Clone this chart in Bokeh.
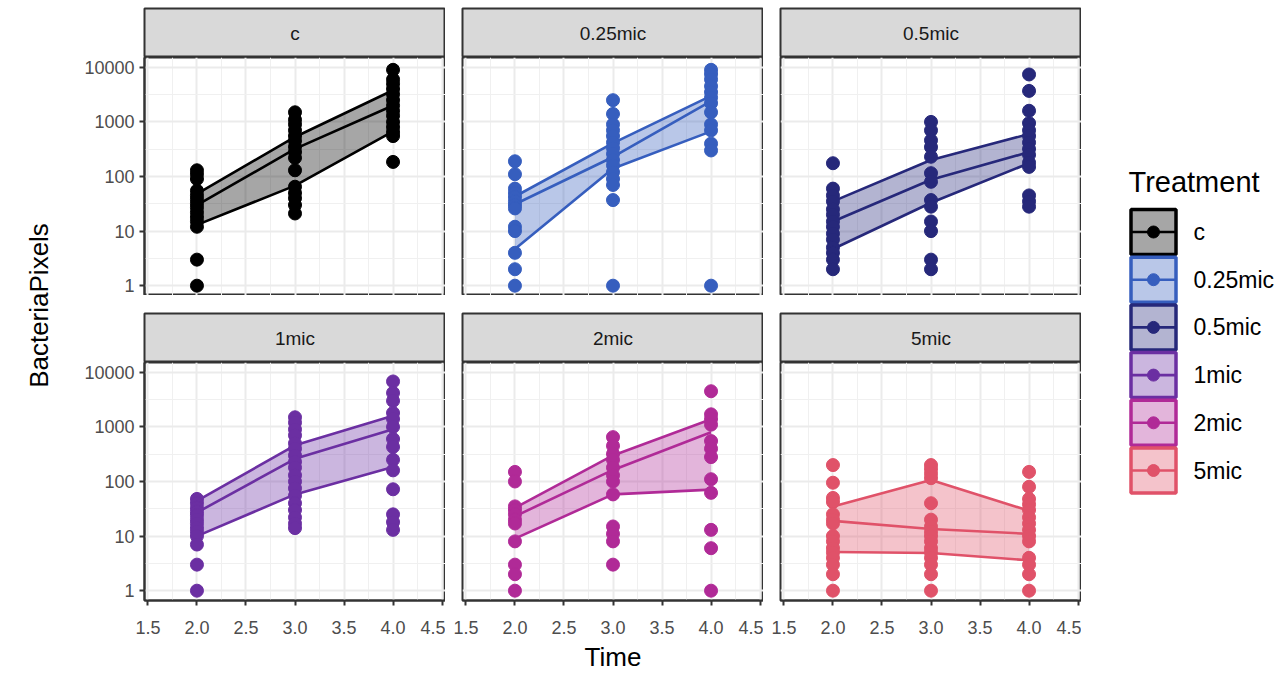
import numpy as np
from bokeh.plotting import figure
from bokeh.layouts import row, column
from bokeh.models import Range1d, FixedTicker, Grid, LogAxis, LinearAxis, PrintfTickFormatter
from bokeh.core.properties import value
from bokeh.embed import file_html
from bokeh.resources import INLINE

# ---------------- data ----------------
TREATMENTS = ["c", "0.25mic", "0.5mic", "1mic", "2mic", "5mic"]
COLORS = ["#000000", "#365EBE", "#26287A", "#6B2FA2", "#B02A97", "#E05269"]
TIMES = [2.0, 3.0, 4.0]
X_TICKS = [1.5, 2.0, 2.5, 3.0, 3.5, 4.0, 4.5]
X_MINOR = [1.75, 2.25, 2.75, 3.25, 3.75, 4.25]
Y_TICKS = [1, 10, 100, 1000, 10000]
Y_MINOR = [3.1623, 31.623, 316.23, 3162.3]

C_T2 = [130, 110, 90, 55, 45, 38, 32, 27, 22, 18, 15, 12, 3, 1]
C_T3 = [1500, 1100, 900, 700, 550, 450, 350, 280, 220, 130, 65, 50, 40, 30, 21]
C_T4 = [9000, 6000, 5000, 4000, 3200, 2500, 2000, 1600, 1300, 1000, 800, 650, 550, 185]
C_LOW = [13, 68, 670]
C_MID = [30, 320, 2000]
C_HIGH = [48, 530, 3800]

M025_T2 = [190, 110, 60, 50, 42, 35, 30, 26, 12, 10, 4, 2, 1]
M025_T3 = [2500, 1400, 900, 700, 550, 420, 330, 260, 200, 160, 120, 90, 70, 37, 1]
M025_T4 = [9000, 7500, 6000, 4500, 3500, 2800, 2200, 1500, 900, 700, 400, 300, 1]
M025_LOW = [4.7, 140, 670]
M025_MID = [31, 228, 2400]
M025_HIGH = [43, 410, 3000]

M05_T2 = [175, 60, 45, 35, 25, 20, 15, 12, 9, 7, 5, 4, 3, 2]
M05_T3 = [1000, 700, 460, 345, 230, 115, 80, 37, 28, 15, 10, 3, 2]
M05_T4 = [7400, 3700, 1600, 950, 700, 550, 420, 320, 250, 180, 150, 45, 35, 28]
M05_LOW = [4.7, 33, 175]
M05_MID = [15, 87, 280]
M05_HIGH = [35, 200, 600]

M1_T2 = [48, 40, 33, 28, 24, 20, 17, 14, 12, 10, 7, 3, 1]
M1_T3 = [1500, 1200, 900, 700, 500, 400, 300, 230, 180, 130, 100, 75, 55, 40, 30, 22, 17, 14]
M1_T4 = [6800, 4200, 3000, 1800, 1400, 1000, 600, 430, 250, 160, 72, 25, 18, 13]
M1_LOW = [10, 58, 185]
M1_MID = [27, 260, 910]
M1_HIGH = [44, 460, 1600]

M2_T2 = [150, 100, 35, 30, 25, 20, 17, 8, 3, 2, 1]
M2_T3 = [650, 450, 320, 250, 180, 130, 100, 58, 15, 11, 8, 3]
M2_T4 = [4500, 1700, 1400, 1100, 550, 400, 280, 110, 62, 13, 6, 1]
M2_LOW = [9, 58, 71]
M2_MID = [23, 163, 800]
M2_HIGH = [33, 300, 1380]

M5_T2 = [200, 95, 50, 42, 25, 20, 17, 10, 8, 6, 5, 4, 3, 2, 1]
M5_T3 = [200, 170, 140, 115, 40, 20, 15, 12, 10, 8, 6, 5, 4, 3, 2, 1]
M5_T4 = [150, 80, 48, 38, 30, 22, 17, 13, 10, 8, 4, 3, 2, 1]
M5_LOW = [5.1, 4.9, 3.6]
M5_MID = [19, 13.5, 11]
M5_HIGH = [35, 107, 29]

POINTS = [
    (C_T2, C_T3, C_T4), (M025_T2, M025_T3, M025_T4), (M05_T2, M05_T3, M05_T4),
    (M1_T2, M1_T3, M1_T4), (M2_T2, M2_T3, M2_T4), (M5_T2, M5_T3, M5_T4),
]
BANDS = [
    (C_LOW, C_MID, C_HIGH), (M025_LOW, M025_MID, M025_HIGH), (M05_LOW, M05_MID, M05_HIGH),
    (M1_LOW, M1_MID, M1_HIGH), (M2_LOW, M2_MID, M2_HIGH), (M5_LOW, M5_MID, M5_HIGH),
]

# ---------------- layout constants ----------------
FONT = "Liberation Sans"
FRAME_W = 301
FRAME_H = 238
STRIP_H = 49
LEFT0 = 84
GAP = 17
YLAB_W = 60
LEG_W = 1287 - (YLAB_W + LEFT0 + 3 * FRAME_W + 2 * GAP)
TOT_H = 677
BOTTOM = 77
BORDER = "#333333"


def base_fig(**kw):
    f = figure(x_axis_location=None, y_axis_location=None,
               output_backend="svg", toolbar_location=None, **kw)
    f.grid.visible = False
    f.border_fill_color = "white"
    return f


def style_axis(a):
    a.axis_line_color = BORDER
    a.axis_line_width = 2
    a.major_tick_line_color = BORDER
    a.major_tick_line_width = 2
    a.major_tick_out = 5
    a.major_tick_in = 0
    a.minor_tick_line_color = None
    a.major_label_text_font = FONT
    a.major_label_text_font_size = "18px"
    a.major_label_text_color = "#4d4d4d"
    a.major_label_standoff = 5


def make_strip(k, top):
    c = k % 3
    left = LEFT0 if c == 0 else GAP
    s = base_fig(width=left + FRAME_W, height=top + STRIP_H,
                 x_range=Range1d(0, 1), y_range=Range1d(0, 1),
                 min_border_left=left, min_border_right=0,
                 min_border_top=top, min_border_bottom=0)
    s.background_fill_color = "#d9d9d9"
    s.outline_line_color = BORDER
    s.outline_line_width = 2
    s.text(x=[0.5], y=[0.5], text=[TREATMENTS[k]], text_align="center",
           text_baseline="middle", text_font=value(FONT),
           text_font_size="19px", text_color="#1a1a1a")
    return s


def make_panel(k):
    r, c = divmod(k, 3)
    left = LEFT0 if c == 0 else GAP
    bottom = BOTTOM if r == 1 else 0
    p = base_fig(width=left + FRAME_W, height=FRAME_H + bottom,
                 x_range=Range1d(1.465, 4.535),
                 y_range=Range1d(10 ** -0.18, 10 ** 4.18),
                 y_axis_type="log",
                 min_border_left=left, min_border_right=0,
                 min_border_top=0, min_border_bottom=bottom)
    p.background_fill_color = "white"
    p.outline_line_color = BORDER
    p.outline_line_width = 2

    xg = Grid(dimension=0, ticker=FixedTicker(ticks=X_TICKS, minor_ticks=X_MINOR),
              grid_line_color="#ebebeb", grid_line_width=2,
              minor_grid_line_color="#f0f0f0", minor_grid_line_width=1)
    yg = Grid(dimension=1, ticker=FixedTicker(ticks=Y_TICKS, minor_ticks=Y_MINOR),
              grid_line_color="#ebebeb", grid_line_width=2,
              minor_grid_line_color="#f0f0f0", minor_grid_line_width=1)
    p.add_layout(xg)
    p.add_layout(yg)

    col = COLORS[k]
    low, mid, high = BANDS[k]
    p.varea(x=TIMES, y1=low, y2=high, fill_color=col, fill_alpha=0.35)
    for arr in (low, mid, high):
        p.line(x=TIMES, y=arr, line_color=col, line_width=2.6)
    xs, ys = [], []
    for t, vals in zip(TIMES, POINTS[k]):
        xs += [t] * len(vals)
        ys += list(vals)
    p.scatter(x=xs, y=ys, size=13, fill_color=col, line_color=col)

    if c == 0:
        ya = LogAxis(ticker=FixedTicker(ticks=Y_TICKS, minor_ticks=[]),
                     formatter=PrintfTickFormatter(format="%d"))
        style_axis(ya)
        p.add_layout(ya, "left")
    if r == 1:
        xa = LinearAxis(ticker=FixedTicker(ticks=X_TICKS, minor_ticks=[]),
                        formatter=PrintfTickFormatter(format="%.1f"))
        style_axis(xa)
        xa.major_label_standoff = 15
        if c == 1:
            xa.axis_label = "Time"
            xa.axis_label_text_font = FONT
            xa.axis_label_text_font_size = "26px"
            xa.axis_label_text_font_style = "normal"
            xa.axis_label_text_color = "black"
            xa.axis_label_standoff = 5
        p.add_layout(xa, "below")
    return p


strips_top = [make_strip(k, 8) for k in range(3)]
strips_bot = [make_strip(k, 18) for k in range(3, 6)]
panels = [make_panel(k) for k in range(6)]

grid = column(row(*strips_top), row(*panels[:3]), row(*strips_bot), row(*panels[3:]))

# y-axis title
ylab = base_fig(width=YLAB_W, height=TOT_H, x_range=Range1d(0, YLAB_W), y_range=Range1d(0, TOT_H),
                min_border=0)
ylab.outline_line_color = None
ylab.text(x=[38], y=[TOT_H - 305], text=["BacteriaPixels"], angle=np.pi / 2,
          text_align="center", text_baseline="middle", text_font=value(FONT),
          text_font_size="26px", text_color="black")

# legend
leg = base_fig(width=LEG_W, height=TOT_H, x_range=Range1d(0, LEG_W), y_range=Range1d(0, TOT_H),
               min_border=0)
leg.outline_line_color = None
key_y = [TOT_H - (231.5 + 47.7 * i) for i in range(len(TREATMENTS))]
leg.text(x=[47], y=[TOT_H - 181], text=["Treatment"], text_align="left", text_baseline="middle",
         text_font=value(FONT), text_font_size="29px", text_color="black")
leg.rect(x=[72] * 6, y=key_y, width=45, height=45, fill_color=COLORS, fill_alpha=0.35,
         line_color=COLORS, line_width=3.5)
leg.segment(x0=[50] * 6, x1=[94] * 6, y0=key_y, y1=key_y, line_color=COLORS, line_width=2.6)
leg.scatter(x=[72] * 6, y=key_y, size=12, fill_color=COLORS, line_color=COLORS)
leg.text(x=[112] * 6, y=key_y, text=TREATMENTS, text_align="left", text_baseline="middle",
         text_font=value(FONT), text_font_size="23px", text_color="black")

layout = row(ylab, grid, leg)

with open("out.html", "w") as f:
    f.write(file_html(layout, INLINE))
